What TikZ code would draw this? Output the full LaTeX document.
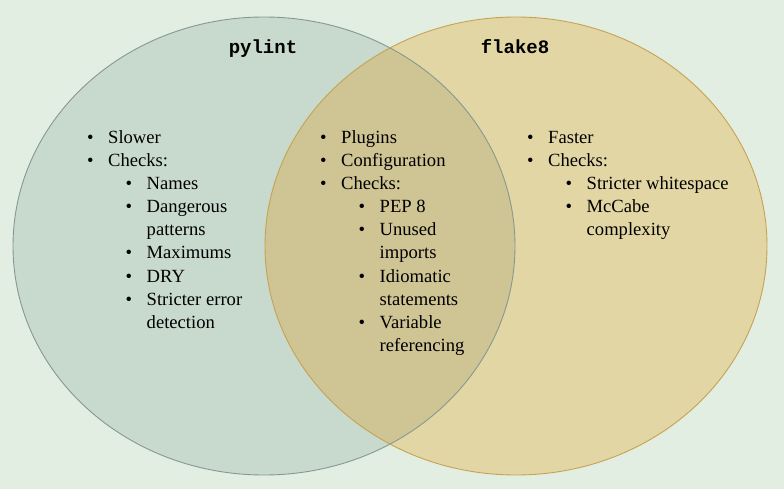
\documentclass[tikz,border=0pt]{standalone}
\usepackage{fontspec}
\setmainfont{Liberation Serif}
\newfontfamily\listfont{Liberation Serif}
\newfontfamily\titlefont{Liberation Mono}
\definecolor{bgcol}{RGB}{227,238,226}
\definecolor{leftfill}{RGB}{200,217,206}
\definecolor{leftline}{RGB}{135,152,146}
\definecolor{rightfill}{RGB}{226,214,164}
\definecolor{rightline}{RGB}{198,163,82}
\definecolor{bothfill}{RGB}{207,196,148}
\newcommand\ia[1]{\makebox[21pt][l]{\textbullet}#1}
\newcommand\ib[1]{\hspace*{38.5pt}\makebox[21pt][l]{\textbullet}#1}
\newcommand\ic[1]{\hspace*{59.5pt}#1}
\tikzset{
  listtext/.style={anchor=base west, inner sep=0pt, font=\listfont\fontsize{18.6}{23.1}\selectfont},
  titletext/.style={anchor=base, inner sep=0pt, font=\titlefont\fontsize{19}{22}\selectfont\bfseries}
}
\begin{document}
\begin{tikzpicture}[x=1pt,y=-1pt]
\fill[bgcol] (0,0) rectangle (784,489);
\useasboundingbox (0,0) rectangle (784,489);
\fill[leftfill] (264,246) ellipse [x radius=251, y radius=229];
\fill[rightfill] (516,246) ellipse [x radius=251, y radius=229];
\begin{scope}
  \clip (264,246) ellipse [x radius=251, y radius=229];
  \fill[bothfill] (516,246) ellipse [x radius=251, y radius=229];
\end{scope}
\draw[leftline, line width=0.9pt] (264,246) ellipse [x radius=251, y radius=229];
\draw[rightline, line width=0.9pt] (516,246) ellipse [x radius=251, y radius=229];

\node[titletext] (pylint) at (263,54) {pylint};
\node[titletext] (flake) at (515,54) {flake8};

\node[listtext] (leftlist) at (87,143.5) {\begin{tabular}[t]{@{}l@{}}
\ia{Slower}\\
\ia{Checks:}\\
\ib{Names}\\
\ib{Dangerous}\\
\ic{patterns}\\
\ib{Maximums}\\
\ib{DRY}\\
\ib{Stricter error}\\
\ic{detection}
\end{tabular}};

\node[listtext] (midlist) at (320,143.5) {\begin{tabular}[t]{@{}l@{}}
\ia{Plugins}\\
\ia{Configuration}\\
\ia{Checks:}\\
\ib{PEP 8}\\
\ib{Unused}\\
\ic{imports}\\
\ib{Idiomatic}\\
\ic{statements}\\
\ib{Variable}\\
\ic{referencing}
\end{tabular}};

\node[listtext] (rightlist) at (527,143.5) {\begin{tabular}[t]{@{}l@{}}
\ia{Faster}\\
\ia{Checks:}\\
\ib{Stricter whitespace}\\
\ib{McCabe}\\
\ic{complexity}
\end{tabular}};
\end{tikzpicture}
\end{document}
